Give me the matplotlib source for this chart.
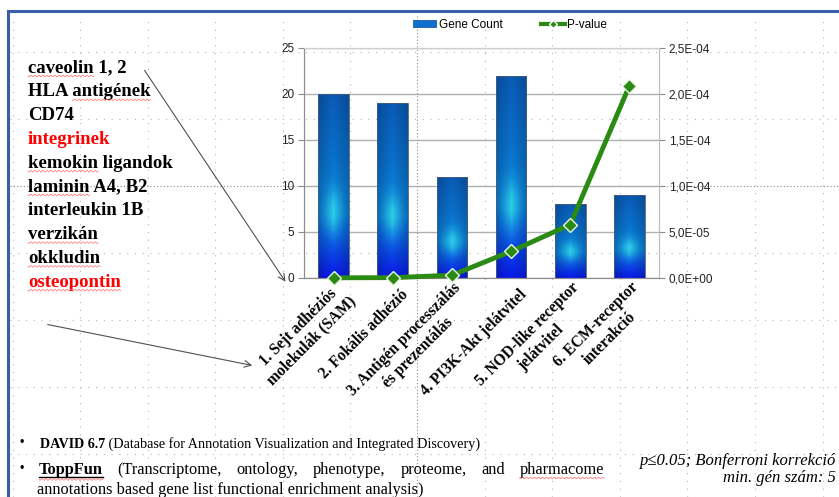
import numpy as np
import matplotlib.pyplot as plt
from matplotlib.lines import Line2D
from matplotlib.patches import Patch, FancyArrowPatch
from matplotlib.ticker import FuncFormatter
import matplotlib.transforms as mtransforms

# pathway enrichment results
categories = ['1. Sejt adhéziós\nmolekulák (SAM)', '2. Fokális adhézió',
              '3. Antigén processzálás\nés prezentálás', '4. PI3K-Akt jelátvitel',
              '5. NOD-like receptor\njelátvitel', '6. ECM-receptor\ninterakció']
gene_count = [20, 19, 11, 22, 8, 9]
p_values = [2.0e-7, 4.0e-7, 3.0e-6, 2.9e-5, 5.8e-5, 2.09e-4]
count_ticks = [0, 5, 10, 15, 20, 25]
p_ticks = [0, 5e-5, 1e-4, 1.5e-4, 2e-4, 2.5e-4]

genes = ['caveolin 1, 2', 'HLA antigének', 'CD74', 'integrinek', 'kemokin ligandok',
         'laminin A4, B2', 'interleukin 1B', 'verzikán', 'okkludin', 'osteopontin']
highlighted = ['integrinek', 'osteopontin']
spell_marked = ['caveolin', 'antigének', 'kemokin', 'laminin', 'verzikán', 'okkludin', 'osteopontin']

W, H = 839, 497
SERIF = ['Liberation Serif', 'DejaVu Serif']
SANS = ['Liberation Sans', 'DejaVu Sans']
GREEN = '#2b8a14'


def px(x, y):
    return x / W, 1 - y / H


fig = plt.figure(figsize=(W / 100, H / 100), dpi=100)
renderer = fig.canvas.get_renderer()

# slide guide grid (dotted)
for gx in [13, 80, 148, 215, 283, 350, 417, 485, 552, 620, 687, 755, 823]:
    strong = gx == 417
    fig.add_artist(Line2D([gx / W] * 2, [0, 1 - 15 / H], transform=fig.transFigure,
                          color='#8c8c8c' if strong else '#b5b5b5', lw=0.8,
                          ls=(0, (1, 2)) if strong else (0, (1, 6)), zorder=0))
for gy in [52, 119, 186, 253, 320, 387, 454]:
    strong = gy == 186
    fig.add_artist(Line2D([10 / W, 1], [1 - gy / H] * 2, transform=fig.transFigure,
                          color='#8c8c8c' if strong else '#b5b5b5', lw=0.8,
                          ls=(0, (1, 2)) if strong else (0, (1, 6)), zorder=0))

# slide frame
fig.add_artist(Line2D([8 / W, 1], [1 - 11 / H] * 2, transform=fig.transFigure,
                      color='#3a5fa8', lw=2.2, zorder=5))
fig.add_artist(Line2D([8 / W] * 2, [0, 1 - 11 / H], transform=fig.transFigure,
                      color='#3a5fa8', lw=2.2, zorder=5))

ax = fig.add_axes([304 / W, 1 - 278 / H, 355 / W, 230 / H])
ax.set_zorder(1)
ax.patch.set_alpha(0)
x = np.arange(len(categories))


def bar_gradient(n=160, m=48):
    v = np.linspace(0, 1, n)[:, None]
    u = np.linspace(0, 1, m)[None, :]
    stops = [0.0, 0.35, 1.0]
    cols = np.array([[0.04, 0.10, 0.93], [0.04, 0.52, 0.88], [0.04, 0.36, 0.72]])
    base = np.stack([np.interp(v, stops, cols[:, k]) * np.ones_like(u) for k in range(3)], axis=-1)
    centre = 1 - np.abs(2 * u - 1)
    base *= (0.82 + 0.18 * centre)[..., None]
    w = (np.exp(-((v - 0.36) / 0.12) ** 2) * centre ** 1.5 * 0.85)[..., None]
    cyan = np.array([0.20, 0.86, 0.90])
    return np.clip(base * (1 - w) + cyan * w, 0, 1)


grad = bar_gradient()
bars = ax.bar(x, gene_count, width=0.52, facecolor='none', edgecolor='#4a5f7a', lw=0.6, zorder=3)
for b in bars:
    im = ax.imshow(grad, origin='lower', aspect='auto', zorder=2,
                   extent=[b.get_x(), b.get_x() + b.get_width(), 0, b.get_height()])
    im.set_clip_path(b)

ax.set_xlim(-0.5, len(categories) - 0.5)
ax.set_ylim(0, 25)
ax.set_yticks(count_ticks)
ax.yaxis.grid(True, color='#b0b0b0', lw=1)
ax.set_axisbelow(True)
ax.tick_params(axis='y', length=4, width=0.8, color='#8c8c8c', pad=3,
               labelsize=8.5, labelcolor='#222222')
for t in ax.get_yticklabels():
    t.set_family(SANS)

ax.set_xticks(x)
ax.set_xticklabels(categories, rotation=45, ha='right', va='center', rotation_mode='anchor',
                   multialignment='center', linespacing=1.25)
ax.tick_params(axis='x', length=0, pad=0)
shift = mtransforms.ScaledTranslation(0.13, -0.14, fig.dpi_scale_trans)
for t in ax.get_xticklabels():
    t.set_family(SERIF)
    t.set_weight('bold')
    t.set_fontsize(11.2)
    t.set_transform(t.get_transform() + shift)

for side, c in [('left', '#8c8c8c'), ('bottom', '#8c8c8c'), ('top', '#cfcfcf'), ('right', '#bfbfbf')]:
    ax.spines[side].set_color(c)

ax2 = ax.twinx()
ax2.plot(x, p_values, color=GREEN, lw=3.5, marker='D', ms=7, mfc=GREEN, mec='#e8f5e0',
         mew=1.0, clip_on=False, zorder=5)
ax2.set_ylim(0, 2.5e-4)
ax2.set_yticks(p_ticks)
ax2.yaxis.set_major_formatter(FuncFormatter(lambda v, _: f'{v:.1E}'.replace('.', ',')))
ax2.tick_params(axis='y', length=4, width=0.8, color='#8c8c8c', pad=3,
                labelsize=8.5, labelcolor='#222222')
for t in ax2.get_yticklabels():
    t.set_family(SANS)
for side, c in [('left', '#8c8c8c'), ('bottom', '#8c8c8c'), ('top', '#cfcfcf'), ('right', '#bfbfbf')]:
    ax2.spines[side].set_color(c)

handles = [Patch(facecolor='#0d6fd0', edgecolor='#0a4a9a', lw=0.5),
           Line2D([], [], color=GREEN, lw=3, marker='D', ms=4, mfc=GREEN, mec='white')]
fig.legend(handles, ['Gene Count', 'P-value'], loc='center', bbox_to_anchor=px(510, 25),
           ncol=2, frameon=False, prop={'family': SANS, 'size': 8.5}, handlelength=2.0,
           handleheight=0.5, handletextpad=0.2, columnspacing=3.3)


def squiggle(x0, x1, y):
    # red spell-check wave under a word, pixel coordinates
    xs = np.linspace(x0, x1, max(int((x1 - x0) * 1.5), 4))
    ys = y + 0.8 * np.sin((xs - x0) * np.pi / 2)
    fig.add_artist(Line2D(xs / W, 1 - ys / H, transform=fig.transFigure,
                          color='#ff6a6a', lw=0.5, zorder=4))


def text_width(s, **kw):
    t = fig.text(0, 0, s, **kw)
    w = t.get_window_extent(renderer).width
    t.remove()
    return w


# gene list on the left
left_kw = dict(family=SERIF, weight='bold', fontsize=13.5)
for i, name in enumerate(genes):
    yc = 68 + 23.8 * i
    fig.text(*px(28, yc), name, color='#ff0000' if name in highlighted else 'black',
             va='center', **left_kw)
    for wd in spell_marked:
        if wd in name.split():
            pre = name[:name.index(wd)]
            xa = 28 + (text_width(pre, **left_kw) if pre else 0)
            squiggle(xa, xa + text_width(wd, **left_kw), yc + 8)

for start, end in [((143, 68), (287, 284)), ((45, 324), (255, 366))]:
    fig.add_artist(FancyArrowPatch(px(*start), px(*end), transform=fig.transFigure,
                                   arrowstyle='->', mutation_scale=12, color='#505050',
                                   lw=0.8, zorder=4))

fig.text(*px(19, 443), '•', family=SANS, fontsize=9, va='center')
fig.text(*px(19, 469), '•', family=SANS, fontsize=9, va='center')
t = fig.text(*px(40, 448), 'DAVID 6.7', family=SERIF, fontsize=10.2, weight='bold', va='baseline')
fig.text(t.get_window_extent(renderer).x1 / W, 1 - 448 / H,
         ' (Database for Annotation Visualization and Integrated Discovery)',
         family=SERIF, fontsize=10.2, va='baseline')

# justified line
words = ['ToppFun', '(Transcriptome,', 'ontology,', 'phenotype,', 'proteome,', 'and', 'pharmacome']
objs = []
for i, wd in enumerate(words):
    objs.append(fig.text(0, 1 - 474 / H, wd, family=SERIF, fontsize=11.8, va='baseline',
                         weight='bold' if i == 0 else 'normal'))
widths = [o.get_window_extent(renderer).width for o in objs]
gap = (604 - 39 - sum(widths)) / (len(words) - 1)
xc = 39
starts = []
for o, wdt in zip(objs, widths):
    o.set_x(xc / W)
    starts.append(xc)
    xc += wdt + gap
fig.add_artist(Line2D([39 / W, (39 + widths[0]) / W], [1 - 477 / H] * 2,
                      transform=fig.transFigure, color='black', lw=1))
squiggle(39, 39 + widths[0], 479.5)
squiggle(starts[-1], starts[-1] + widths[-1], 478)
fig.text(*px(37, 494), 'annotations based gene list functional enrichment analysis)',
         family=SERIF, fontsize=11.8, va='baseline')

fig.text(*px(836, 461), 'p≤0.05; Bonferroni korrekció', family=SERIF, style='italic',
         fontsize=12, ha='right', va='center')
fig.text(*px(836, 478), 'min. gén szám: 5', family=SERIF, style='italic',
         fontsize=12, ha='right', va='center')

fig.savefig('out.png', dpi=100)
